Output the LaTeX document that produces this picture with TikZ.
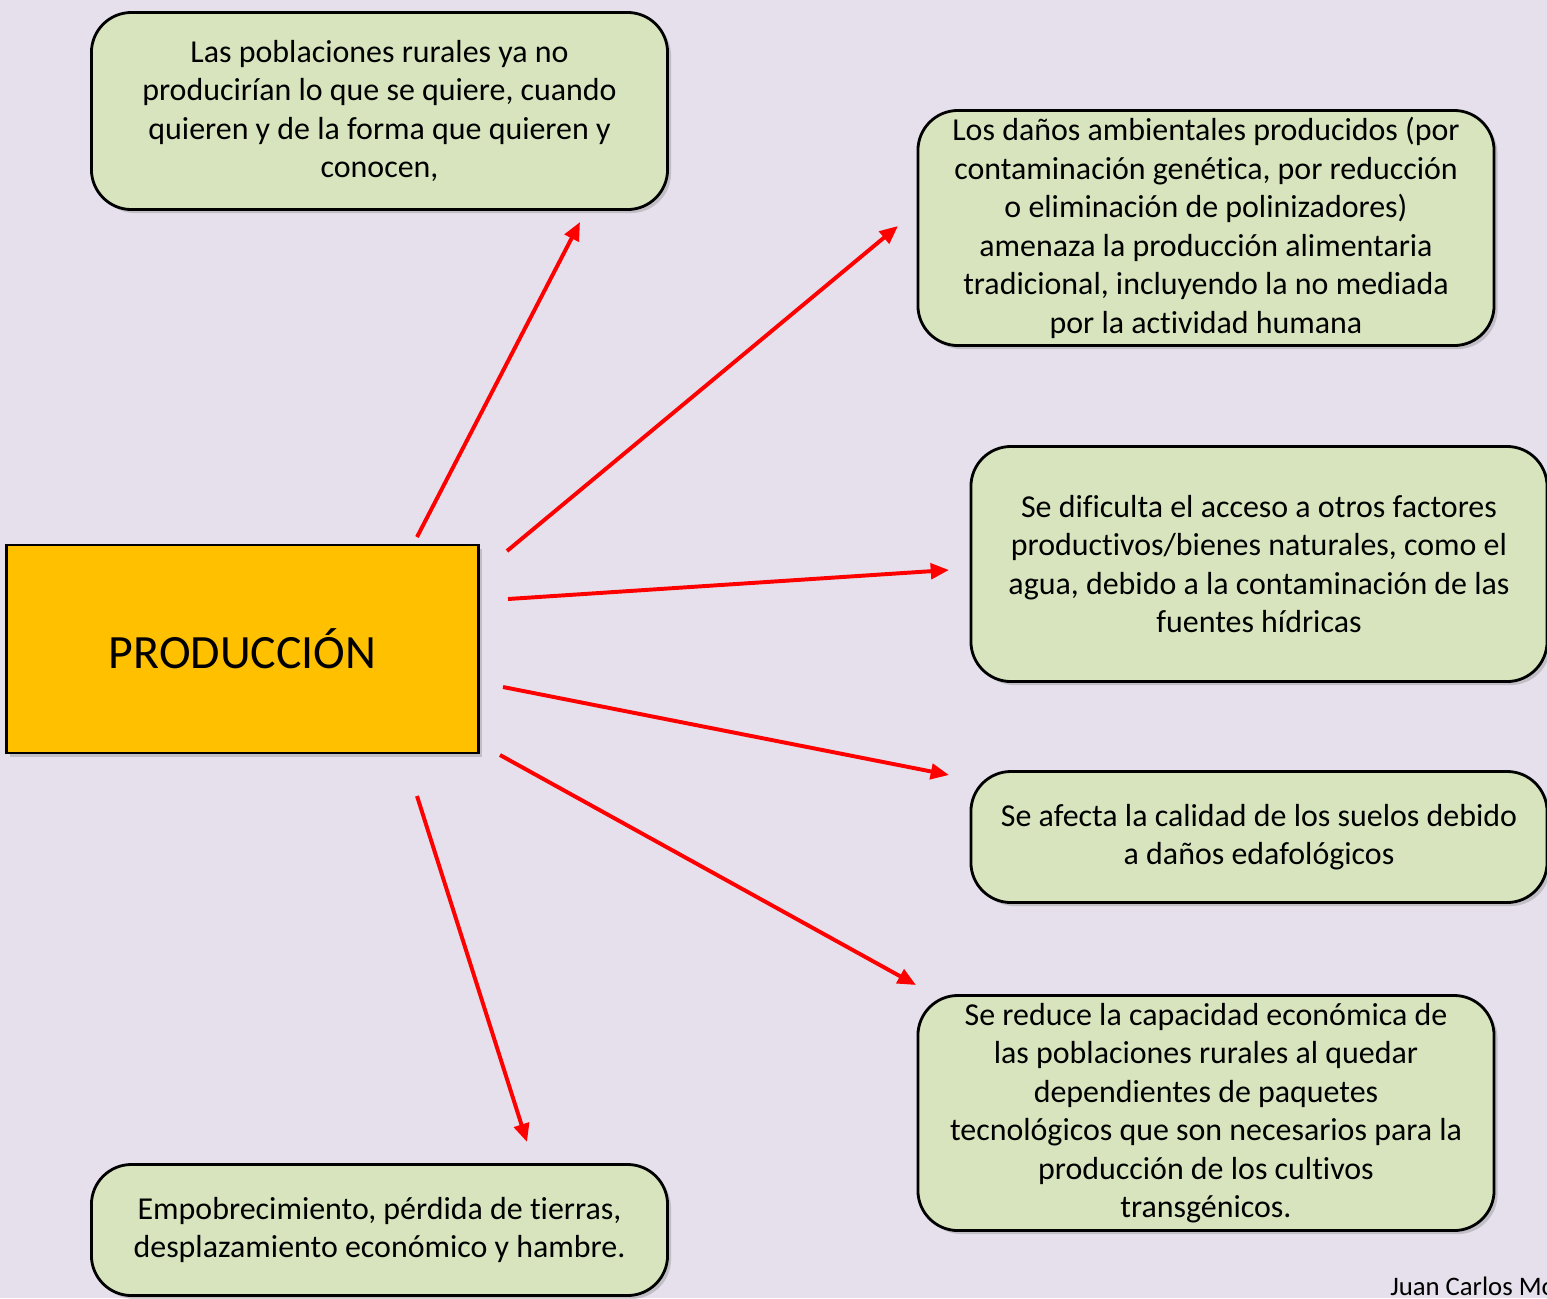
\documentclass[tikz,border=0pt]{standalone}
\usepackage{fontspec}
\setmainfont{Carlito}[Ligatures=NoCommon]
\usetikzlibrary{arrows.meta,shadows}
\definecolor{my_bg}{HTML}{E5E0EC}
\definecolor{my_green}{HTML}{D7E4BD}
\definecolor{my_orange}{HTML}{FFC000}
\definecolor{my_red}{HTML}{FF0000}
\begin{document}
\begin{tikzpicture}[x=0.025cm,y=-0.025cm,
  effect/.style={rectangle,draw=black,line width=2pt,fill=my_green,rounded corners=1cm,minimum width=14.4cm,align=center,inner sep=0pt,font=\fontsize{22.7}{27.4}\selectfont,drop shadow={shadow xshift=2.5pt,shadow yshift=-2.5pt,opacity=0.35}},
  center_box/.style={rectangle,draw=black,line width=2pt,fill=my_orange,minimum width=11.8cm,minimum height=5.2cm,font=\fontsize{34}{40}\selectfont,drop shadow={shadow xshift=2.5pt,shadow yshift=-2.5pt,opacity=0.35}},
  red_arrow/.style={-{Triangle[length=13pt,width=11pt]},line width=2.8pt,color=my_red}
  ]

% background
\fill[my_bg] (0,0) rectangle (1547,1298);
\useasboundingbox (0,0) rectangle (1547,1298);

% center
\node[center_box] (prod) at (242.5,649) {PRODUCCIÓN};

% text
\node[effect,minimum height=4.925cm] (rurales) at (379.5,111) {Las poblaciones rurales ya no\\producirían lo que se quiere, cuando\\quieren y de la forma que quieren y\\conocen,};
\node[effect,minimum height=5.875cm] (danos) at (1206,228) {Los daños ambientales producidos (por\\contaminación genética, por reducción\\o eliminación de polinizadores)\\amenaza la producción alimentaria\\tradicional, incluyendo la no mediada\\por la actividad humana};
\node[effect,minimum height=5.875cm] (acceso) at (1259,564) {Se dificulta el acceso a otros factores\\productivos/bienes naturales, como el\\agua, debido a la contaminación de las\\fuentes hídricas};
\node[effect,minimum height=3.275cm] (suelos) at (1259,837) {Se afecta la calidad de los suelos debido\\a daños edafológicos};
\node[effect,minimum height=5.875cm] (capacidad) at (1206,1113) {Se reduce la capacidad económica de\\las poblaciones rurales al quedar\\dependientes de paquetes\\tecnológicos que son necesarios para la\\producción de los cultivos\\transgénicos.};
\node[effect,minimum height=3.275cm] (hambre) at (379.5,1230) {Empobrecimiento, pérdida de tierras,\\desplazamiento económico y hambre.};

\node[anchor=base west,font=\fontsize{19}{23}\selectfont,inner sep=0pt] (autor) at (1390,1295) {Juan Carlos Mo};

% arrow ends
\coordinate (s1) at (417,537);  \coordinate (t1) at (580,222);
\coordinate (s2) at (507,551);  \coordinate (t2) at (898,226);
\coordinate (s3) at (508,599);  \coordinate (t3) at (949,570);
\coordinate (s4) at (503,687);  \coordinate (t4) at (949,775);
\coordinate (s5) at (500,755);  \coordinate (t5) at (916,985);
\coordinate (s6) at (417,796);  \coordinate (t6) at (527,1142);

% arrows
\draw[red_arrow] (s1) -- (t1);
\draw[red_arrow] (s2) -- (t2);
\draw[red_arrow] (s3) -- (t3);
\draw[red_arrow] (s4) -- (t4);
\draw[red_arrow] (s5) -- (t5);
\draw[red_arrow] (s6) -- (t6);

\end{tikzpicture}
\end{document}
